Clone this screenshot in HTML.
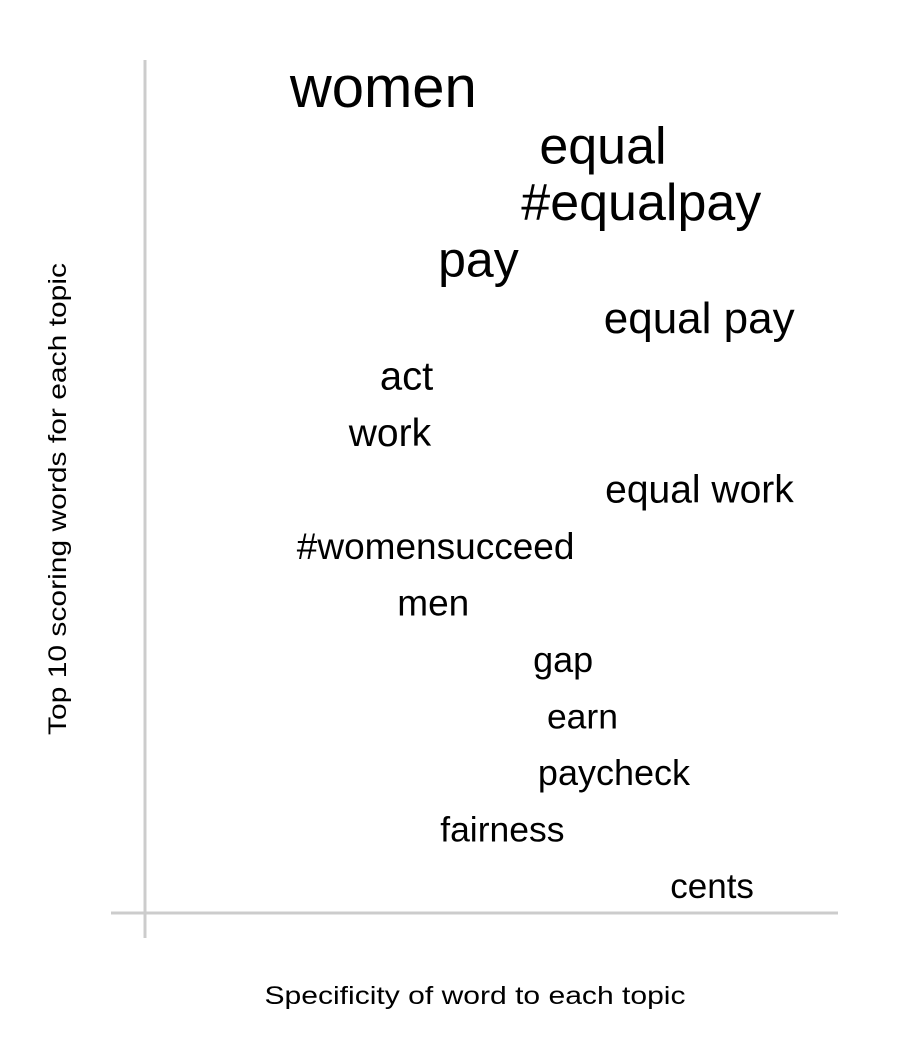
<!DOCTYPE html>
<html><head><meta charset="utf-8"><style>
html,body{margin:0;padding:0;background:#fff;}
svg{display:block;font-family:"Liberation Sans",Arial,sans-serif;}
</style></head><body>
<svg id="chart" width="900" height="1050">
<line x1="145" y1="60" x2="145" y2="938" stroke="#cccccc" stroke-width="3"/>
<line x1="111" y1="913" x2="838" y2="913" stroke="#cccccc" stroke-width="3"/>
<text x="66" y="499" font-size="25" text-anchor="middle" textLength="472" lengthAdjust="spacingAndGlyphs" transform="rotate(-90 66 499)" fill="#000">Top 10 scoring words for each topic</text>
<text x="475" y="1004" font-size="25" text-anchor="middle" textLength="421" lengthAdjust="spacingAndGlyphs" fill="#000">Specificity of word to each topic</text>
<g id="words"></g>
</svg>
<script>
const words = ["women","equal","#equalpay","pay","equal pay","act","work","equal work","#womensucceed","men","gap","earn","paycheck","fairness","cents"];
const specificity = [0.209,0.569,0.543,0.423,0.662,0.339,0.294,0.664,0.219,0.364,0.560,0.580,0.567,0.426,0.758];
const scores = [58,52,52,50,44,40,39,39,37,37,36,35.5,36,35.5,35];
const xScale = v => 145 + v * 693;
const yScale = i => 107 + i * (898 - 107) / (words.length - 1);
const sizeScale = s => s;
const g = document.getElementById('words');
words.forEach((w, i) => {
  const t = document.createElementNS('http://www.w3.org/2000/svg', 'text');
  t.setAttribute('x', xScale(specificity[i]));
  t.setAttribute('y', yScale(i));
  t.setAttribute('font-size', sizeScale(scores[i]));
  t.setAttribute('fill', '#000');
  t.textContent = w;
  
  
  g.appendChild(t);
});
</script>
</body></html>
